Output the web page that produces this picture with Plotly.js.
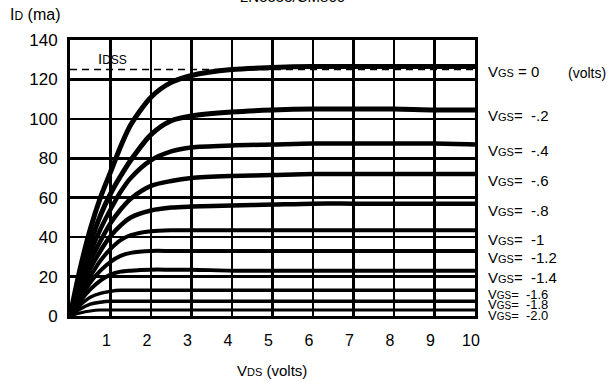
<!DOCTYPE html>
<html>
<head>
<meta charset="utf-8">
<script src="https://cdn.plot.ly/plotly-3.0.1.min.js"></script>
<style>html,body{margin:0;padding:0;background:#fff;}</style>
</head>
<body>
<div id="chart" style="width:616px;height:382px;"></div>
<script>
// ---- data ----
var vds = [0, 0.25, 0.5, 0.75, 1, 1.25, 1.5, 2, 2.5, 3, 4, 5, 6, 7, 8, 9, 10];
var id_vgs_0    = [0, 24, 44, 60, 73, 86, 97, 111, 118.5, 122, 125, 126, 126.5, 126.5, 126.5, 126.5, 126.5];
var id_vgs_m02  = [0, 20, 37, 51, 62, 71, 79, 92, 99, 101.5, 103.5, 104.5, 105, 105, 105, 104.5, 104.5];
var id_vgs_m04  = [0, 17, 32, 44, 54, 63, 70, 79, 83.5, 85.5, 86.5, 87, 87.5, 87.5, 87.5, 87.5, 87];
var id_vgs_m06  = [0, 15, 28, 38, 47, 54, 59.5, 66, 68.5, 70, 71, 71.5, 72, 72, 72, 72, 72];
var id_vgs_m08  = [0, 13, 24, 33, 40.5, 46, 50, 53.5, 55, 55.5, 56, 56.5, 57, 57, 57, 57, 57];
var id_vgs_m10  = [0, 11, 20, 28, 34, 38.5, 41, 43, 43.5, 43.5, 43.5, 43.5, 43.5, 43.5, 43.5, 43.5, 43.5];
var id_vgs_m12  = [0, 9, 17, 23, 27.5, 30.5, 32, 33, 33, 33, 33, 33, 33, 33, 33, 33, 33];
var id_vgs_m14  = [0, 7.5, 13.5, 18, 21, 22.5, 23, 23.5, 23.5, 23.5, 23, 23, 23, 23, 23, 23, 23];
var id_vgs_m16  = [0, 5.5, 9.5, 11.5, 12.5, 13, 13, 13, 13, 13, 13, 13, 13, 13, 13, 13, 13];
var id_vgs_m18  = [0, 3.5, 6, 7, 7.5, 7.5, 7.5, 7.5, 7.5, 7.5, 7.5, 7.5, 7.5, 7.5, 7.5, 7.5, 7.5];
var id_vgs_m20  = [0, 1.5, 2.5, 3, 3, 3, 3, 3, 3, 3, 3, 3, 3, 3, 3, 3, 3];
var idss = 125;
var vgsLabels = ['0', '-.2', '-.4', '-.6', '-.8', '-1', '-1.2', '-1.4', '-1.6', '-1.8', '-2.0'];
var xTicks = [1, 2, 3, 4, 5, 6, 7, 8, 9, 10];
var yTicks = [0, 20, 40, 60, 80, 100, 120, 140];

// ---- plot ----
var series = [id_vgs_0, id_vgs_m02, id_vgs_m04, id_vgs_m06, id_vgs_m08, id_vgs_m10,
              id_vgs_m12, id_vgs_m14, id_vgs_m16, id_vgs_m18, id_vgs_m20];
var widths = [5, 5, 4.5, 4.5, 4.5, 4, 4, 4, 3.5, 3.5, 3];
var traces = series.map(function (s, i) {
  return {x: vds, y: s, mode: 'lines', type: 'scatter', name: 'VGS=' + vgsLabels[i],
          line: {color: '#000', width: widths[i], shape: 'spline', smoothing: 0.8},
          hoverinfo: 'skip', showlegend: false};
});
traces.push({x: [0, 10], y: [idss, idss], mode: 'lines', type: 'scatter',
             line: {color: '#000', width: 1.5, dash: '7px,5px'}, showlegend: false, hoverinfo: 'skip'});

var FONT = 'Liberation Sans, Arial, sans-serif';
var plotTop = 40, plotBottom = 316, plotH = plotBottom - plotTop;
function py(pix) { return (plotBottom - pix) / plotH; }
var labelPix = [72, 115, 150, 180, 210, 239, 257, 277, 294, 304.5, 315];
var labelSize = [15, 15, 15, 15, 15, 15, 15, 15, 13, 13, 13];
var annotations = labelPix.map(function (p, i) {
  var sp = i === 0 ? ' = ' : '=\u00a0\u00a0';
  var sub = Math.round(labelSize[i] * 0.74);
  return {xref: 'paper', yref: 'paper', x: 1.03, y: py(p), xanchor: 'left', yanchor: 'middle',
          showarrow: false, font: {family: FONT, size: labelSize[i], color: '#000'}, borderpad: 0,
          text: 'V<span style="font-size:' + sub + 'px">GS</span>' + sp + vgsLabels[i]};
});
annotations.push({xref: 'paper', yref: 'paper', x: (566 - 70) / 405, y: py(73), xanchor: 'left', yanchor: 'middle',
  showarrow: false, font: {family: FONT, size: 14, color: '#000'}, text: '(volts)'});
annotations.push({xref: 'paper', yref: 'paper', x: (96 - 70) / 405, y: py(59), xanchor: 'left', yanchor: 'middle',
  showarrow: false, font: {family: FONT, size: 15, color: '#000'}, text: 'I<span style="font-size:12px">DSS</span>'});
annotations.push({xref: 'paper', yref: 'paper', x: (8 - 70) / 405, y: py(14), xanchor: 'left', yanchor: 'middle',
  showarrow: false, font: {family: FONT, size: 16, color: '#000'}, text: 'I<span style="font-size:12px">D</span> (ma)'});
annotations.push({xref: 'paper', yref: 'paper', x: (272 - 70) / 405, y: py(370), xanchor: 'center', yanchor: 'middle',
  showarrow: false, font: {family: FONT, size: 15, color: '#000'}, text: 'V<span style="font-size:11px">DS</span> (volts)'});
annotations.push({xref: 'paper', yref: 'paper', x: (292 - 70) / 405, y: py(-3), xanchor: 'center', yanchor: 'middle',
  showarrow: false, font: {family: FONT, size: 15, color: '#000'}, text: '2N5555/CM860'});

var layout = {
  width: 616, height: 382,
  margin: {l: 70, r: 141, t: 40, b: 66},
  paper_bgcolor: '#fff', plot_bgcolor: '#fff',
  showlegend: false,
  font: {family: FONT, color: '#000'},
  xaxis: {range: [0, 10], tickvals: xTicks, ticktext: xTicks.map(String), ticks: '',
          showgrid: true, gridcolor: '#000', gridwidth: 2.5, zeroline: false,
          showline: true, linecolor: '#000', linewidth: 3, mirror: true,
          tickfont: {family: FONT, size: 16, color: '#000'}, ticklabelstandoff: 8, ticklabelshift: -4,
          fixedrange: true},
  yaxis: {range: [0, 140], tickvals: yTicks, ticktext: yTicks.map(String), ticks: '',
          showgrid: true, gridcolor: '#000', gridwidth: 2.5, zeroline: false,
          showline: true, linecolor: '#000', linewidth: 3, mirror: true,
          tickfont: {family: FONT, size: 17, color: '#000'}, ticklabelstandoff: 6,
          fixedrange: true},
  annotations: annotations
};
Plotly.newPlot('chart', traces, layout, {staticPlot: true, displayModeBar: false});
</script>
</body>
</html>
